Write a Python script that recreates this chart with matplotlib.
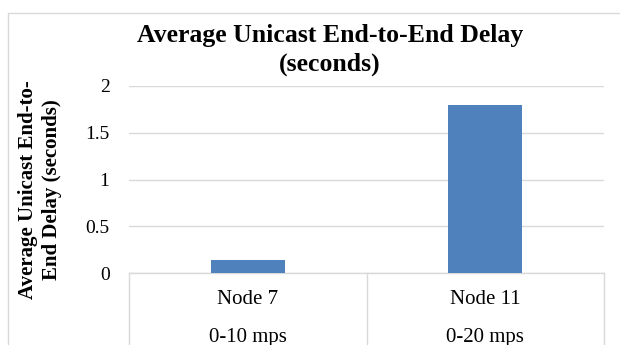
import matplotlib
matplotlib.use("Agg")
import matplotlib.pyplot as plt
from matplotlib.patches import Rectangle
from matplotlib.transforms import blended_transform_factory

# Data
nodes = ["Node 7", "Node 11"]
speeds = ["0-10 mps", "0-20 mps"]
delays = [0.14, 1.80]
y_ticks = [0, 0.5, 1, 1.5, 2]
y_tick_labels = ["0", "0.5", "1", "1.5", "2"]

title = "Average Unicast End-to-End Delay\n(seconds)"
ylabel = "Average Unicast End-to-\nEnd Delay (seconds)"

plt.rcParams["font.family"] = ["Liberation Serif", "DejaVu Serif"]

W, H = 620, 345
fig = plt.figure(figsize=(W / 100, H / 100), dpi=100)

grid_col = "#d9d9d9"
bar_col = "#4f81bd"

# outer chart frame
fig.patches.append(Rectangle((8 / W, -0.1), 1.2, (H - 13) / H + 0.1,
                             transform=fig.transFigure, fill=False,
                             edgecolor=grid_col, linewidth=1.0))

left, right, bottom, top = 129, 604, 273, 86
ax = fig.add_axes([left / W, (H - bottom) / H, (right - left) / W, (bottom - top) / H])

x = list(range(len(nodes)))
ax.bar(x, delays, width=0.31, color=bar_col, zorder=3)

ax.set_xlim(-0.5, len(nodes) - 0.5)
ax.set_ylim(0, 2)
ax.set_yticks(y_ticks)
ax.set_yticklabels(y_tick_labels, fontsize=14)
ax.tick_params(axis="y", length=0, pad=14)
ax.set_xticks([])
for sp in ["top", "right", "left"]:
    ax.spines[sp].set_visible(False)
ax.spines["bottom"].set_color(grid_col)
ax.spines["bottom"].set_linewidth(1.0)
ax.yaxis.grid(True, color=grid_col, linewidth=1.0, zorder=0)
ax.set_axisbelow(True)

# two-level category axis
trans = blended_transform_factory(ax.transData, ax.transAxes)
for xi, (n, s) in enumerate(zip(nodes, speeds)):
    ax.text(xi, -0.144, n, transform=trans, ha="center", va="center", fontsize=15)
    ax.text(xi, -0.345, s, transform=trans, ha="center", va="center", fontsize=15)
for xs in [-0.5 + i for i in range(len(nodes) + 1)]:
    ax.plot([xs, xs], [0, -0.6], transform=trans, color=grid_col,
            linewidth=1.0, clip_on=False)

fig.text(330 / W, 1 - 50 / H, title, ha="center", va="center",
         fontsize=18.5, fontweight="bold", linespacing=1.3)
fig.text(40 / W, 1 - 190 / H, ylabel, ha="center", va="center",
         rotation=90, fontsize=15, fontweight="bold", linespacing=1.25)

fig.savefig("out.png", dpi=100)
